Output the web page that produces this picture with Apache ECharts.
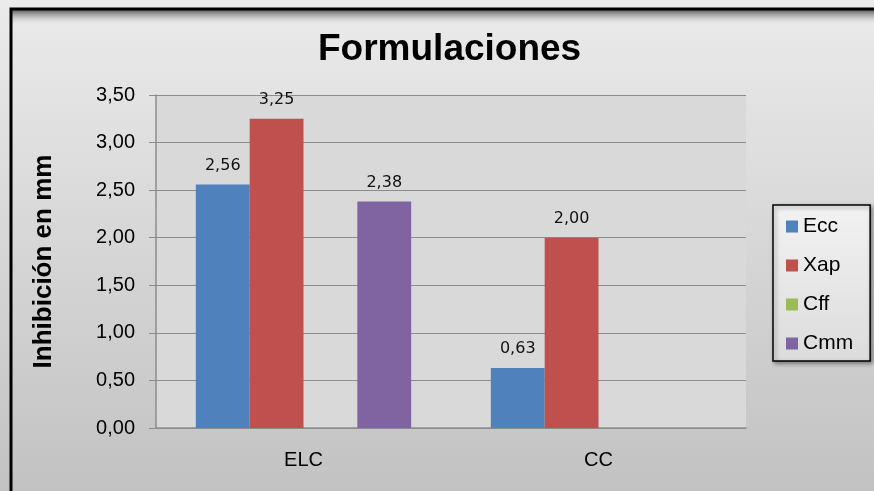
<!DOCTYPE html>
<html>
<head>
<meta charset="utf-8">
<script src="https://cdn.jsdelivr.net/npm/echarts@6/dist/echarts.min.js"></script>
<style>
html,body{margin:0;padding:0;background:#fff;}
#main{width:874px;height:491px;}
</style>
</head>
<body>
<div id="main"></div>
<script>
var categories = ['ELC', 'CC'];
var seriesNames = ['Ecc', 'Xap', 'Cff', 'Cmm'];
var ecc = [2.56, 0.63];
var xap = [3.25, 2.00];
var cff = [null, null];
var cmm = [2.38, null];
var colors = ['#4f81bd', '#c0504d', '#9bbb59', '#8064a2'];

var fmt = v => v.toFixed(2).replace('.', ',');
var myChart = echarts.init(document.getElementById('main'));

var makeSeries = (name, data, i) => ({
    name: name,
    type: 'bar',
    data: data,
    barGap: '0%',
    barCategoryGap: '27%',
    itemStyle: { color: colors[i] },
    label: {
        show: true,
        position: 'top',
        distance: 11,
        fontFamily: 'DejaVu Sans',
        fontSize: 16,
        color: '#111',
        formatter: p => p.value == null ? '' : fmt(p.value)
    }
});

var option = {
    animation: false,
    backgroundColor: new echarts.graphic.LinearGradient(0, 0, 0, 1, [
        { offset: 0, color: '#ebebeb' },
        { offset: 1, color: '#c2c2c2' }
    ]),
    title: {
        text: 'Formulaciones',
        left: 313,
        top: 26,
        textStyle: { fontFamily: 'Liberation Sans', fontWeight: 'bold', fontSize: 37, color: '#000' }
    },
    graphic: [
        {
            type: 'rect', silent: true, z: 100,
            shape: { x: 11, y: 9, width: 880, height: 500 },
            style: { fill: 'none', stroke: '#000', lineWidth: 3 }
        },
        {
            type: 'rect', silent: true, z: 99,
            shape: { x: 12, y: 10, width: 870, height: 14 },
            style: {
                fill: new echarts.graphic.LinearGradient(0, 0, 0, 1, [
                    { offset: 0, color: 'rgba(80,80,80,0.9)' },
                    { offset: 1, color: 'rgba(200,200,200,0)' }
                ])
            }
        }
    ],
    grid: {
        left: 156, right: 128, top: 95, bottom: 63,
        show: true, backgroundColor: '#d9d9d9', borderWidth: 0
    },
    legend: {
        orient: 'vertical',
        left: 773, top: 205,
        data: seriesNames,
        icon: 'rect',
        itemWidth: 12, itemHeight: 12,
        itemGap: 18,
        padding: [11, 17, 7, 13],
        backgroundColor: new echarts.graphic.LinearGradient(0, 0, 0, 1, [
            { offset: 0, color: '#f2f2f2' },
            { offset: 1, color: '#dcdcdc' }
        ]),
        borderColor: '#000', borderWidth: 1.5,
        shadowColor: 'rgba(0,0,0,0.4)', shadowBlur: 4, shadowOffsetX: 2, shadowOffsetY: 2,
        textStyle: { fontFamily: 'Liberation Sans', fontSize: 21, color: '#000', lineHeight: 21 }
    },
    xAxis: {
        type: 'category',
        data: categories,
        axisLine: { lineStyle: { color: '#8c8c8c', width: 1.5 } },
        axisTick: { show: false },
        axisLabel: { margin: 22, fontFamily: 'Liberation Sans', fontSize: 20, color: '#000' }
    },
    yAxis: {
        type: 'value',
        min: 0, max: 3.5, interval: 0.5,
        name: 'Inhibición en mm',
        nameLocation: 'middle',
        nameGap: 99,
        nameTextStyle: { fontFamily: 'Liberation Sans', fontWeight: 'bold', fontSize: 26, color: '#000' },
        axisLine: { show: true, lineStyle: { color: '#8c8c8c', width: 1.5 } },
        axisTick: { show: true, length: 7, lineStyle: { color: '#8c8c8c' } },
        splitLine: { lineStyle: { color: '#8c8c8c', width: 1.2 } },
        axisLabel: { margin: 21, fontFamily: 'Liberation Sans', fontSize: 20, color: '#000', formatter: fmt }
    },
    series: [
        makeSeries('Ecc', ecc, 0),
        makeSeries('Xap', xap, 1),
        makeSeries('Cff', cff, 2),
        makeSeries('Cmm', cmm, 3)
    ]
};

myChart.setOption(option);
</script>
</body>
</html>
